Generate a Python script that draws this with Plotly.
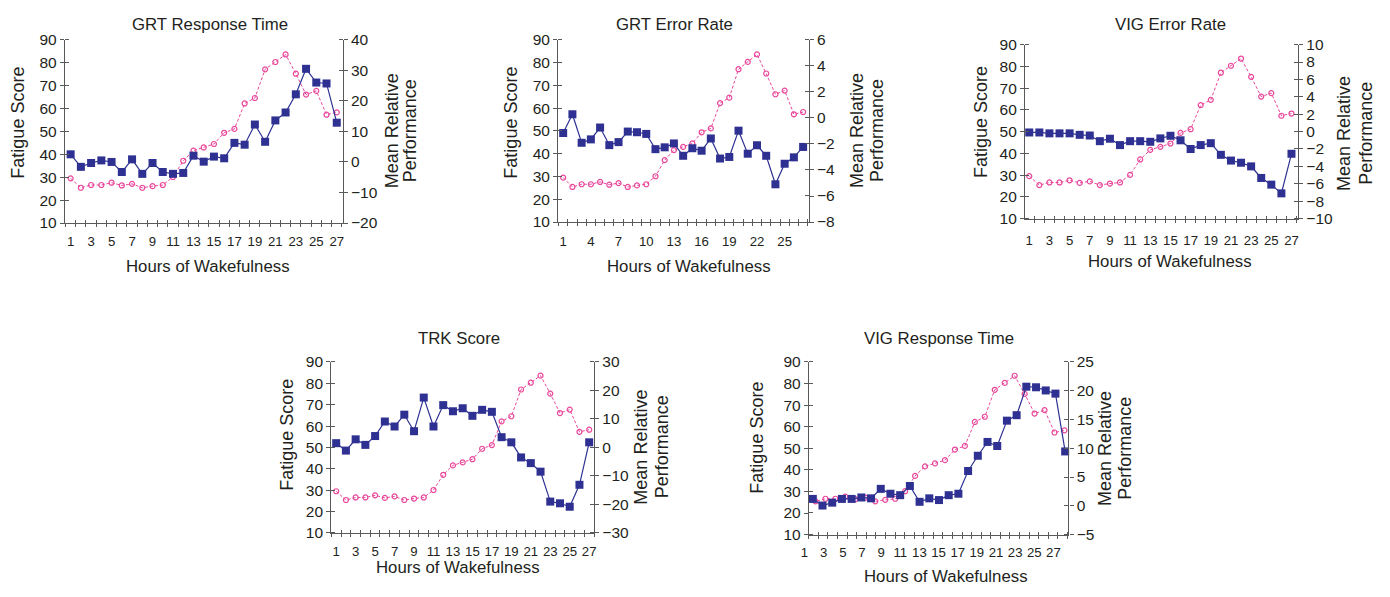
import plotly.graph_objects as go

W, H = 1390, 597

# ---------------- data ----------------
hours = list(range(1, 28))
fatigue = [29.5, 25.4, 26.6, 26.6, 27.6, 26.4, 27.1, 25.4, 26.1, 26.6, 30.1, 37.2, 41.6, 43.0,
           44.5, 49.4, 51.1, 62.2, 64.6, 77.1, 80.3, 83.6, 75.2, 66.1, 67.7, 57.3, 58.3]

grt_response_time = [2.5, -1.6, -0.35, 0.5, 0.0, -3.3, 0.85, -3.9, -0.35, -3.3, -3.9, -3.6, 2.05, 0.1,
                     1.75, 1.2, 6.25, 5.65, 12.25, 6.6, 13.6, 16.2, 22.15, 30.5, 26.0, 25.7, 12.85]
grt_error_rate = [-1.16, 0.28, -1.91, -1.65, -0.74, -2.09, -1.86, -1.05, -1.1, -1.23, -2.4, -2.26, -1.96,
                  -2.91, -2.33, -2.52, -1.58, -3.12, -3.0, -0.98, -2.75, -2.1, -2.91, -5.1, -3.52, -3.03, -2.23]
vig_error_rate = [-0.1, -0.1, -0.2, -0.2, -0.2, -0.37, -0.45, -1.1, -0.82, -1.55, -1.1, -1.1, -1.17, -0.78,
                  -0.48, -1.0, -2.0, -1.55, -1.33, -2.67, -3.33, -3.58, -4.0, -5.33, -6.1, -7.1, -2.55]
trk_score = [1.5, -1.1, 2.85, 0.9, 4.0, 9.1, 7.35, 11.5, 5.7, 17.5, 7.35, 14.85, 12.7, 13.75, 11.1,
             13.2, 12.5, 3.6, 1.8, -3.5, -5.5, -8.5, -19.0, -19.6, -20.8, -13.1, 1.8]
vig_response_time = [1.2, 0.05, 0.55, 1.2, 1.2, 1.45, 1.3, 2.95, 2.1, 1.85, 3.45, 0.7, 1.3, 1.0, 1.85,
                     2.1, 6.05, 8.7, 11.1, 10.4, 14.8, 15.75, 20.7, 20.6, 20.05, 19.5, 9.45]

left_ticks = [10, 20, 30, 40, 50, 60, 70, 80, 90]
odd_hour_labels = [1, 3, 5, 7, 9, 11, 13, 15, 17, 19, 21, 23, 25, 27]
third_hour_labels = [1, 4, 7, 10, 13, 16, 19, 22, 25]

x_title = "Hours of Wakefulness"
left_title = "Fatigue Score"
right_title_lines = ["Mean Relative", "Performance"]

# ---------------- styles / layout config ----------------
FONT = "Liberation Sans, Arial, Helvetica, sans-serif"
TXT = "#231f20"
AX = "#58595b"
PINK = "#e8479b"
BLUE = "#2e3192"
YTICK_FONT = dict(family=FONT, size=15.5, color=TXT)
XTICK_FONT = dict(family=FONT, size=13.2, color=TXT)

panels = [
    dict(title="GRT Response Time", perf=grt_response_time, rticks=[-20, -10, 0, 10, 20, 30, 40],
         labels=odd_hour_labels, box=(65, 343.3, 31.7, 220.3), xr=[0.44, 27.59],
         ticks=[h - 0.5 for h in hours] + [27.5], lab_off=6,
         t_xy=(210.8, 16), xt_xy=(208.3, 265), lt_xy=(18, 117), rt_x=(392, 411), rt_y=125.5),
    dict(title="GRT Error Rate", perf=grt_error_rate, rticks=[-8, -6, -4, -2, 0, 2, 4, 6],
         labels=third_hour_labels, box=(559, 810, 31.7, 219.3), xr=[0.46, 27.62],
         ticks=[h - 0.5 for h in hours] + [27.5], lab_off=7,
         t_xy=(675.5, 16), xt_xy=(690, 265), lt_xy=(511.7, 117), rt_x=(858.3, 878.3), rt_y=125.5),
    dict(title="VIG Error Rate", perf=vig_error_rate, rticks=[-10, -8, -6, -4, -2, 0, 2, 4, 6, 8, 10],
         labels=odd_hour_labels, box=(1026.5, 1300, 36.7, 215.7), xr=[0.58, 27.66],
         ticks=[h - 0.5 for h in hours] + [27.5], lab_off=10,
         t_xy=(1172.5, 16), xt_xy=(1171.3, 260), lt_xy=(981.7, 116), rt_x=(1346.7, 1368.3), rt_y=128),
    dict(title="TRK Score", perf=trk_score, rticks=[-30, -20, -10, 0, 10, 20, 30],
         labels=odd_hour_labels, box=(331.7, 595, 363.3, 539.3), xr=[0.49, 27.51],
         ticks=[h - 0.5 for h in hours] + [27.5], lab_off=6,
         t_xy=(459.2, 339.3), xt_xy=(458.8, 574.5), lt_xy=(286.7, 438), rt_x=(641.7, 663.3), rt_y=450.7),
    dict(title="VIG Response Time", perf=vig_response_time, rticks=[-5, 0, 5, 10, 15, 20, 25],
         labels=odd_hour_labels, box=(810, 1070, 363.3, 541), xr=[1.448, 28.57],
         ticks=[1.45 + k for k in range(28)], lab_off=6,
         # tick labels of this panel sit on their own scale, starting left of the y axis
         label_span=(795, 1070), label_xr=[-0.116, 28.57],
         blue_xr=[0.59, 27.34], pink_xr=[1.331, 27.40],
         t_xy=(940.3, 339.3), xt_xy=(947.7, 584.3), lt_xy=(758.3, 441), rt_x=(1106, 1126.7), rt_y=452.5),
]

fig = go.Figure()
lay = dict(width=W, height=H, margin=dict(l=0, r=0, t=0, b=0), paper_bgcolor="white",
           plot_bgcolor="rgba(0,0,0,0)", showlegend=False,
           font=dict(family=FONT, size=15.5, color=TXT))
annotations = []
counters = {"x": 0, "y": 0}


def new_axis(p):
    counters[p] += 1
    n = counters[p]
    key = p + ("axis" if n == 1 else f"axis{n}")
    ref = p if n == 1 else f"{p}{n}"
    return key, ref


def minor_vals(vals, rng):
    eps = 1e-4 * (rng[1] - rng[0])
    return [v + eps if v + eps < rng[1] else v - eps for v in vals]


def px_to_paper(x, y):
    return x / W, 1 - y / H


def helper_trace(xa, ya):
    # empty helper so that the axis pair is registered as a subplot (draws nothing)
    fig.add_trace(go.Scatter(x=[None], y=[None], xaxis=xa, yaxis=ya, mode="markers",
                             showlegend=False, hoverinfo="skip"))


def label_axis(dom, rng, anchor, labels, lab_off, overlay=None):
    d = dict(anchor=anchor, range=rng, tickmode="array",
             tickvals=labels, ticktext=[str(v) for v in labels],
             ticks="outside", ticklen=lab_off, tickcolor="rgba(0,0,0,0)",
             tickangle=0, tickfont=XTICK_FONT, showline=False,
             showgrid=False, zeroline=False)
    if overlay:
        d["overlaying"] = overlay
    else:
        d["domain"] = dom
    return d


for p in panels:
    x0, x1, yt, yb = p["box"]
    dom_x = [x0 / W, x1 / W]
    dom_y = [1 - yb / H, 1 - yt / H]
    xr = p["xr"]
    rr = [p["rticks"][0], p["rticks"][-1]]
    lr = [left_ticks[0], left_ticks[-1]]
    tk = [v for v in p["ticks"] if xr[0] <= v <= xr[1]]

    xm_key, xm = new_axis("x")      # frame axis: line, outside ticks (and labels)
    xi_key, xi = new_axis("x")      # overlay: inside half of the crossing ticks
    yl_key, yl = new_axis("y")
    yr_key, yr = new_axis("y")

    own_labels = "label_span" not in p
    lay[xm_key] = dict(domain=dom_x, anchor=yl, range=xr, showline=True, linecolor=AX, linewidth=1.2,
                       showgrid=False, zeroline=False,
                       minor=dict(tickmode="array", tickvals=tk, ticks="outside",
                                  ticklen=3, tickcolor=AX, tickwidth=1, showgrid=False))
    if own_labels:
        lay[xm_key].update(label_axis(None, xr, yl, p["labels"], p["lab_off"]))
        lay[xm_key]["domain"] = dom_x
        lay[xm_key]["showline"] = True
    else:
        lay[xm_key].update(tickmode="array", tickvals=[], showticklabels=False, ticks="")
        lk, lref = new_axis("x")
        ls0, ls1 = p["label_span"]
        lay[lk] = label_axis([ls0 / W, ls1 / W], p["label_xr"], yl, p["labels"], p["lab_off"])
        helper_trace(lref, yl)

    lay[xi_key] = dict(overlaying=xm, anchor=yl, range=xr, tickmode="array", tickvals=tk,
                       ticks="inside", ticklen=3, tickcolor=AX, tickwidth=1,
                       showticklabels=False, showline=False, showgrid=False, zeroline=False)
    lay[yl_key] = dict(domain=dom_y, anchor=xm, range=lr, tickmode="array", tickvals=left_ticks,
                       ticks="outside", ticklen=4, tickcolor=AX, tickwidth=1,
                       showline=True, linecolor=AX, linewidth=1.2, tickfont=YTICK_FONT,
                       showgrid=False, zeroline=False,
                       minor=dict(tickmode="array", tickvals=minor_vals(left_ticks, lr), ticks="inside",
                                  ticklen=4, tickcolor=AX, tickwidth=1, showgrid=False))
    lay[yr_key] = dict(overlaying=yl, side="right", anchor=xm, range=rr, tickmode="array",
                       tickvals=p["rticks"], ticks="outside", ticklen=4, tickcolor=AX, tickwidth=1,
                       showline=True, linecolor=AX, linewidth=1.2, tickfont=YTICK_FONT,
                       showgrid=False, zeroline=False,
                       minor=dict(tickmode="array", tickvals=minor_vals(p["rticks"], rr), ticks="inside",
                                  ticklen=4, tickcolor=AX, tickwidth=1, showgrid=False))

    helper_trace(xm, yl)
    helper_trace(xi, yl)

    xp = xm
    xb = xi
    if "pink_xr" in p:
        k, xp = new_axis("x")
        lay[k] = dict(overlaying=xm, anchor=yl, range=p["pink_xr"], visible=False)
    if "blue_xr" in p:
        k, xb = new_axis("x")
        lay[k] = dict(overlaying=xm, anchor=yl, range=p["blue_xr"], visible=False)

    fig.add_trace(go.Scatter(
        x=hours, y=fatigue, xaxis=xp, yaxis=yl, mode="lines+markers", cliponaxis=False,
        line=dict(color=PINK, width=1, dash="3px,2px"),
        marker=dict(symbol="circle-open", size=5, color=PINK, line=dict(width=1.2, color=PINK)),
        name=left_title, hoverinfo="x+y"))
    fig.add_trace(go.Scatter(
        x=hours, y=p["perf"], xaxis=xb, yaxis=yr, mode="lines+markers", cliponaxis=False,
        line=dict(color=BLUE, width=1.2),
        marker=dict(symbol="square", size=8, color=BLUE),
        name=p["title"], hoverinfo="x+y"))

    tx, ty = px_to_paper(*p["t_xy"])
    annotations.append(dict(text=p["title"], x=tx, y=ty, xref="paper", yref="paper",
                            xanchor="center", yanchor="middle", showarrow=False,
                            font=dict(family=FONT, size=16.8, color=TXT)))
    tx, ty = px_to_paper(*p["xt_xy"])
    annotations.append(dict(text=x_title, x=tx, y=ty, xref="paper", yref="paper",
                            xanchor="center", yanchor="middle", showarrow=False,
                            font=dict(family=FONT, size=16.8, color=TXT)))
    tx, ty = px_to_paper(*p["lt_xy"])
    annotations.append(dict(text=left_title, x=tx, y=ty, xref="paper", yref="paper",
                            xanchor="center", yanchor="middle", showarrow=False, textangle=-90,
                            font=dict(family=FONT, size=18, color=TXT)))
    for line_text, lx in zip(right_title_lines, p["rt_x"]):
        tx, ty = px_to_paper(lx, p["rt_y"])
        annotations.append(dict(text=line_text, x=tx, y=ty, xref="paper", yref="paper",
                                xanchor="center", yanchor="middle", showarrow=False, textangle=-90,
                                font=dict(family=FONT, size=18, color=TXT)))

lay["annotations"] = annotations
fig.update_layout(**lay)
fig.write_html("out.html")
